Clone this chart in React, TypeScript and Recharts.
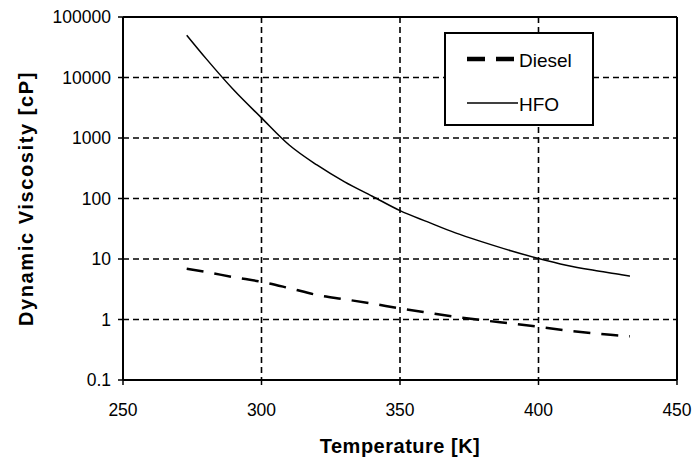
import { LineChart, Line, XAxis, YAxis, CartesianGrid, ReferenceLine, Legend } from 'recharts';

const temperature = [273, 280, 290, 300, 310, 320, 330, 340, 350, 360, 370, 380, 390, 400, 410, 420, 430, 433];
const diesel = [6.9, 6.1, 5.0, 4.2, 3.3, 2.55, 2.16, 1.83, 1.53, 1.3, 1.11, 0.97, 0.86, 0.76, 0.66, 0.59, 0.54, 0.53];
const hfo = [50000, 20500, 6200, 2150, 765, 358, 188, 109, 63, 41, 27, 19, 13.7, 10.2, 7.9, 6.5, 5.5, 5.2];
const xTicks = [250, 300, 350, 400, 450];
const yTicks = [0.1, 1, 10, 100, 1000, 10000, 100000];

const data = temperature.map((t, i) => ({ t, diesel: diesel[i], hfo: hfo[i] }));

const font = '"Liberation Sans", Arial, sans-serif';

// legend samples are drawn a bit heavier than the plotted lines
const legendSample: Record<string, { width: number; dash?: string }> = {
  Diesel: { width: 4.5, dash: '18 11' },
  HFO: { width: 1.5 },
};

function LegendBox({ payload }: any) {
  const items = payload || [];
  return (
    <svg width={150} height={94} style={{ display: 'block' }}>
      <rect x={1} y={1} width={148} height={92} fill="#fff" stroke="#000" strokeWidth={2} />
      {items.map((entry: any, i: number) => {
        const s = legendSample[entry.value] || { width: 1.5 };
        const y = 27 + i * 44;
        return (
          <g key={entry.value}>
            <line x1={23} x2={i === 0 ? 71 : 74} y1={y} y2={y} stroke="#000" strokeWidth={s.width} strokeDasharray={s.dash} />
            <text x={75} y={y + 8} fontSize={19} fontFamily={font} fill="#000">
              {entry.value}
            </text>
          </g>
        );
      })}
    </svg>
  );
}

export default function App() {
  return (
    <div style={{ position: 'absolute', left: 0, top: 0, width: 695, height: 464, background: '#fff', fontFamily: font }}>
      <LineChart width={695} height={464} data={data} margin={{ top: 17, right: 18, left: 0, bottom: 0 }}>
        <CartesianGrid stroke="#000" strokeWidth={1.6} strokeDasharray="6 4" />
        <XAxis
          dataKey="t"
          type="number"
          domain={[250, 450]}
          ticks={xTicks}
          interval={0}
          height={84}
          axisLine={{ stroke: '#000', strokeWidth: 2 }}
          tickLine={{ stroke: '#000', strokeWidth: 1.5 }}
          tickSize={5}
          tickMargin={19}
          tick={{ fill: '#000', fontSize: 17.5, fontFamily: font }}
          label={{
            value: 'Temperature [K]',
            position: 'insideBottom',
            offset: 11,
            style: { fill: '#000', fontSize: 20, fontWeight: 'bold', fontFamily: font, letterSpacing: '0.5px' },
          }}
        />
        <YAxis
          type="number"
          scale="log"
          domain={[0.1, 100000]}
          allowDataOverflow
          ticks={yTicks}
          interval={0}
          width={123}
          axisLine={{ stroke: '#000', strokeWidth: 2 }}
          tickLine={{ stroke: '#000', strokeWidth: 1.5 }}
          tickSize={5}
          tickMargin={7}
          tick={{ fill: '#000', fontSize: 17.5, fontFamily: font }}
          label={{
            value: 'Dynamic Viscosity [cP]',
            angle: -90,
            position: 'insideLeft',
            offset: 26,
            style: { textAnchor: 'middle', fill: '#000', fontSize: 20, fontWeight: 'bold', fontFamily: font, letterSpacing: '1.6px' },
          }}
        />
        <ReferenceLine y={100000} stroke="#000" strokeWidth={2} />
        <ReferenceLine x={450} stroke="#000" strokeWidth={2} />
        <Line
          type="monotone"
          dataKey="diesel"
          name="Diesel"
          stroke="#000"
          strokeWidth={2.5}
          strokeDasharray="17 11"
          dot={false}
          isAnimationActive={false}
        />
        <Line
          type="monotone"
          dataKey="hfo"
          name="HFO"
          stroke="#000"
          strokeWidth={1.5}
          dot={false}
          isAnimationActive={false}
        />
        <Legend
          layout="vertical"
          align="center"
          verticalAlign="middle"
          content={LegendBox}
          wrapperStyle={{ left: 444, top: 32, width: 150, height: 94 }}
        />
      </LineChart>
    </div>
  );
}
